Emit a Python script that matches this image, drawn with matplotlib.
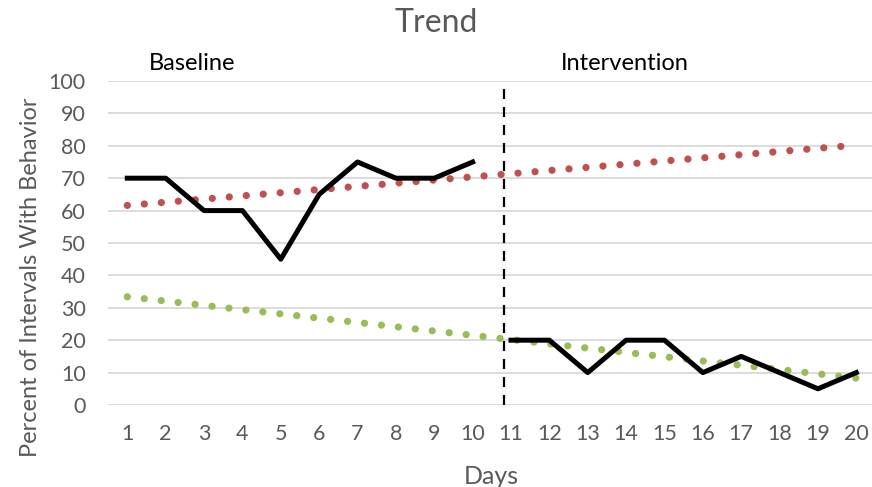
import matplotlib
matplotlib.use("Agg")
import matplotlib.pyplot as plt

# daily percentages for each phase
baseline_days = [1, 2, 3, 4, 5, 6, 7, 8, 9, 10]
baseline_vals = [70, 70, 60, 60, 45, 65, 75, 70, 70, 75]
interv_days = [11, 12, 13, 14, 15, 16, 17, 18, 19, 20]
interv_vals = [20, 20, 10, 20, 20, 10, 15, 10, 5, 10]

# trend line endpoints (day 1 and day 20)
trend_days = [1, 20]
up_trend = [61.6, 80.2]
down_trend = [33.4, 8.3]

phase_change = 10.82

plt.rcParams["font.family"] = ["Lato", "DejaVu Sans"]

fig = plt.figure(figsize=(8.72, 4.87), dpi=100)
ax = fig.add_axes([0.124, 0.1684, 0.88, 0.6653])

gray = "#595959"

# dotted trend lines
ax.plot(trend_days, up_trend, color="#c0504d", lw=5.2,
        linestyle=(0, (0.01, 2.35)), dash_capstyle="round", clip_on=False, zorder=3)
ax.plot(trend_days, down_trend, color="#9bbb59", lw=5.2,
        linestyle=(0, (0.01, 2.35)), dash_capstyle="round", clip_on=False, zorder=3)

# data paths
ax.plot(baseline_days, baseline_vals, color="black", lw=3.6, clip_on=False, zorder=4)
ax.plot(interv_days, interv_vals, color="black", lw=3.6, clip_on=False, zorder=4)

# phase change line
ax.plot([phase_change, phase_change], [0, 98.5], color="black", lw=1.6,
        linestyle=(0, (4.5, 3.6)), clip_on=False, zorder=5)

ax.set_xlim(0.5, 20.5)
ax.set_ylim(0, 100)
ax.set_xticks(range(1, 21))
ax.set_yticks(range(0, 101, 10))
ax.grid(axis="y", color="#d9d9d9", lw=1.3)
ax.set_axisbelow(True)
for s in ax.spines.values():
    s.set_visible(False)
ax.tick_params(axis="both", length=0, labelsize=15.5, labelcolor=gray)
ax.tick_params(axis="x", pad=14)
ax.tick_params(axis="y", pad=16)

ax.set_xlabel("Days", fontsize=18, color=gray, labelpad=15)
ax.set_ylabel("Percent of Intervals With Behavior", fontsize=17, color=gray)
ax.yaxis.set_label_coords(-0.088, 0.395)

fig.text(0.5, 0.953, "Trend", fontsize=23, color=gray, ha="center", va="center")
fig.text(0.22, 0.87, "Baseline", fontsize=17, color="black", ha="center", va="center")
fig.text(0.717, 0.87, "Intervention", fontsize=17, color="black", ha="center", va="center")

fig.savefig("out.png", dpi=100)
